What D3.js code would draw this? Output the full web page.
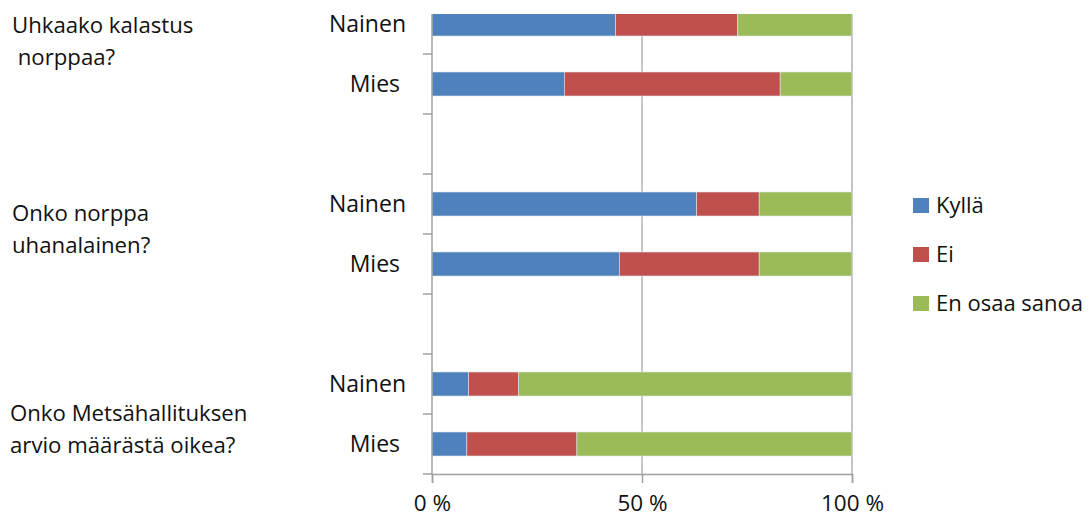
<!DOCTYPE html>
<meta charset="utf-8">
<head>
<style>
  body { margin: 0; background: #fff; }
  text { font-family: "Open Sans", sans-serif; fill: #111; }
</style>
</head>
<body>
<script src="https://cdn.jsdelivr.net/npm/d3@7"></script>
<script>

// Chart data (percent per answer)
var rows = ["N1", "M1", "gap1", "N2", "M2", "gap2", "N3", "M3"];
var rowLabels = ["Nainen", "Mies ", "", "Nainen", "Mies ", "", "Nainen", "Mies "];
var series = ["Kyllä", "Ei", "En osaa sanoa"];
var kylla = [43.7, 31.5, null, 63.0, 44.6, null, 8.7, 8.3];
var ei    = [29.1, 51.4, null, 14.9, 33.3, null, 11.9, 26.2];
var eos   = [27.2, 17.1, null, 22.1, 22.1, null, 79.4, 65.5];
var questions = [
  ["Uhkaako kalastus", " norppaa?"],
  ["Onko norppa", "uhanalainen?"],
  ["Onko Metsähallituksen", "arvio määrästä oikea?"]
];
var xTicks = [0, 50, 100];
var xTickLabels = ["0 %", "50 %", "100 %"];
var colors = ["#4f81bd", "#c0504d", "#9bbb59"];

var width = 1089, height = 518;

var svg = d3.select("body").append("svg")
    .attr("width", width)
    .attr("height", height);

var plotTop = 14, plotBottom = 474;

var x = d3.scaleLinear().domain([0, 100]).range([432, 852]);
var y = d3.scaleBand().domain(rows).range([-6, 474])
    .paddingInner(0.6).paddingOuter(0.3);

svg.append("defs").append("clipPath").attr("id", "plotclip")
  .append("rect")
    .attr("x", 0).attr("y", plotTop)
    .attr("width", width).attr("height", plotBottom - plotTop);

// gridlines
svg.append("g").selectAll("line")
  .data(xTicks.slice(1))
  .enter().append("line")
    .attr("x1", d => x(d)).attr("x2", d => x(d))
    .attr("y1", plotTop).attr("y2", plotBottom)
    .attr("stroke", "#8c8c8c")
    .attr("stroke-width", 1);

// stacked bars
var table = rows.map(function(r, i) {
  return { row: r, "Kyllä": kylla[i], "Ei": ei[i], "En osaa sanoa": eos[i] };
}).filter(d => d["Kyllä"] != null);

var stacked = d3.stack().keys(series)(table);

var bars = svg.append("g").attr("clip-path", "url(#plotclip)");
bars.selectAll("g")
  .data(stacked)
  .enter().append("g")
    .attr("fill", (d, i) => colors[i])
  .selectAll("rect")
  .data(d => d)
  .enter().append("rect")
    .attr("x", d => x(d[0]))
    .attr("width", d => x(d[1]) - x(d[0]))
    .attr("y", d => y(d.data.row))
    .attr("height", y.bandwidth())
    .attr("stroke", "#dde6f0")
    .attr("stroke-width", 0.6);

// y axis line + ticks at row boundaries
var axisColor = "#a0a0a0";
svg.append("line")
    .attr("x1", x(0)).attr("x2", x(0))
    .attr("y1", plotTop).attr("y2", plotBottom)
    .attr("stroke", axisColor).attr("stroke-width", 1.5);

svg.append("g").selectAll("line")
  .data(rows.slice(1).concat(["end"]))
  .enter().append("line")
    .attr("x1", x(0) - 9).attr("x2", x(0))
    .attr("y1", (d, i) => y.range()[0] + y.step() * (i + 1))
    .attr("y2", (d, i) => y.range()[0] + y.step() * (i + 1))
    .attr("stroke", axisColor).attr("stroke-width", 1.5);

// x axis
var xAxis = d3.axisBottom(x)
  .tickValues(xTicks)
  .tickSize(9)
  .tickFormat((d, i) => xTickLabels[i]);

var gx = svg.append("g")
    .attr("transform", "translate(0," + plotBottom + ")")
    .call(xAxis);
gx.select(".domain").attr("stroke", axisColor).attr("stroke-width", 1.5);
gx.selectAll(".tick line").attr("stroke", axisColor).attr("stroke-width", 1.5);
gx.selectAll(".tick text")
    .attr("y", 37)
    .attr("dy", 0)
    .style("font-family", "'Open Sans', sans-serif")
    .style("font-size", "22.5px")
    .attr("fill", "#111");

// category labels
svg.append("g").selectAll("text")
  .data(rows)
  .enter().append("text")
    .attr("x", 406)
    .attr("y", d => y(d) + y.bandwidth() / 2 + 8)
    .attr("text-anchor", "end")
    .style("font-size", "23px")
    .style("white-space", "pre")
    .text((d, i) => rowLabels[i]);

// question labels
var qLineY = [[33, 65], [221, 253], [421, 453]];
questions.forEach(function(q, gi) {
  q.forEach(function(line, li) {
    svg.append("text")
      .attr("x", gi == 2 ? 10 : 12)
      .attr("y", qLineY[gi][li])
      .style("font-size", "22.2px")
      .style("white-space", "pre")
      .text(line);
  });
});

// legend
var legend = svg.append("g").selectAll("g")
  .data(series)
  .enter().append("g")
    .attr("transform", (d, i) => "translate(913," + (198 + i * 49) + ")");
legend.append("rect")
    .attr("width", 16).attr("height", 15)
    .attr("fill", (d, i) => colors[i]);
legend.append("text")
    .attr("x", 23).attr("y", 15)
    .style("font-size", "22px")
    .text(d => d);

</script>
</body>
